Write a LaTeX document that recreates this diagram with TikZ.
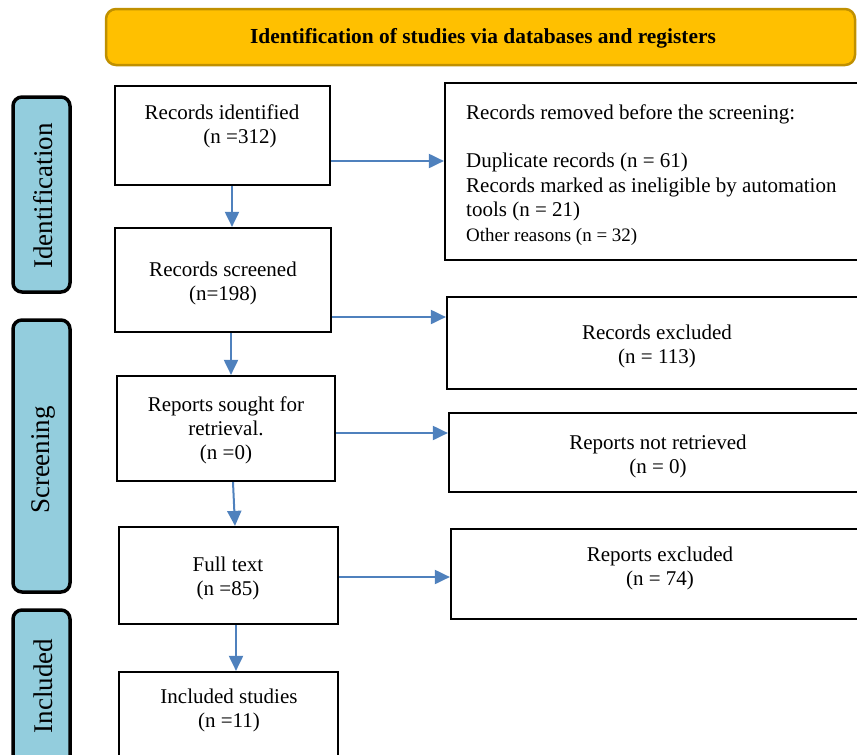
\documentclass[tikz,border=0pt]{standalone}
\usepackage{fontspec}
\setmainfont{Liberation Serif}
\usetikzlibrary{arrows.meta}
\definecolor{gold}{HTML}{FFC000}
\definecolor{goldline}{HTML}{C09000}
\definecolor{tabblue}{HTML}{93CDDD}
\definecolor{arrblue}{HTML}{4F81BD}
\begin{document}
\begin{tikzpicture}[x=1pt,y=-1pt,
  box/.style={draw=black, line width=2.2pt, inner sep=0pt},
  txt/.style={font=\fontsize{21}{24}\selectfont, align=center, inner sep=0pt},
  tab/.style={draw=black, line width=3.5pt, fill=tabblue, rounded corners=9pt, inner sep=0pt},
  tabtxt/.style={font=\fontsize{27}{30}\selectfont, rotate=90, inner sep=0pt},
  arr/.style={draw=arrblue, line width=2pt, -{Triangle[length=15pt,width=14pt]}}
]
\useasboundingbox (0,0) rectangle (857,755);
\clip (0,0) rectangle (857,755);

% banner
\node[draw=goldline, fill=gold, line width=2.5pt, rounded corners=10pt, inner sep=0pt,
      minimum width=749pt, minimum height=56pt] (banner) at (480.5,37) {};
\node[font=\bfseries\fontsize{21.4}{26}\selectfont, inner sep=0pt] (bannertxt) at (483,38)
  {Identification of studies via databases and registers};

% side tabs
\node[tab, minimum width=57pt, minimum height=195pt] (tabid) at (41.5,194.5) {};
\node[tabtxt] (tabidtxt) at (43,196) {Identification};
\node[tab, minimum width=57pt, minimum height=272pt] (tabsc) at (41.5,456) {};
\node[tabtxt] (tabsctxt) at (43,460) {Screening};
\node[tab, minimum width=57pt, minimum height=160pt] (tabin) at (41.5,690) {};
\node[tabtxt] (tabintxt) at (43,686) {Included};

% left column boxes
\node[box, minimum width=215pt, minimum height=99pt] (ri) at (222.5,135.5) {};
\node[txt] (ritxt) at (222,126) {Records identified\\\hspace{36pt}(n =312)};
\node[box, minimum width=216pt, minimum height=104pt] (rs) at (223,280) {};
\node[txt] (rstxt) at (223,283) {Records screened\\(n=198)};
\node[box, minimum width=218pt, minimum height=105pt] (so) at (226,428.5) {};
\node[txt] (sotxt) at (226,430) {Reports sought for\\retrieval.\\(n =0)};
\node[box, minimum width=219pt, minimum height=97pt] (ft) at (228.5,575.5) {};
\node[txt] (fttxt) at (228,578) {Full text\\(n =85)};
\node[box, minimum width=219pt, minimum height=88pt] (inc) at (228.5,716) {};
\node[txt] (inctxt) at (229,710) {Included studies\\(n =11)};

% right column boxes
\node[box, minimum width=425pt, minimum height=177pt] (rem) at (657.5,171.5) {};
\node[txt, align=left, anchor=north west] (remtxt) at (466,105)
  {Records removed before the screening:\\[24pt]
   Duplicate records (n = 61)\\[1pt]
   Records marked as ineligible by automation\\
   tools (n = 21)\\[1pt]
   {\fontsize{19}{22}\selectfont Other reasons (n = 32)}};
\node[box, minimum width=423pt, minimum height=92pt] (rex) at (658.5,343) {};
\node[txt] (rextxt) at (657,346) {Records excluded\\(n = 113)};
\node[box, minimum width=421pt, minimum height=79pt] (nr) at (659.5,452.5) {};
\node[txt] (nrtxt) at (658,456) {Reports not retrieved\\(n = 0)};
\node[box, minimum width=419pt, minimum height=90pt] (rpx) at (660.5,574) {};
\node[txt] (rpxtxt) at (660,568) {Reports excluded\\(n = 74)};

% connectors
\draw[arr] (ri.east |- 0,161) -- (rem.west |- 0,161);
\draw[arr] (rs.east |- 0,317) -- (rex.west |- 0,317);
\draw[arr] (so.east |- 0,433) -- (nr.west |- 0,433);
\draw[arr] (ft.east |- 0,577) -- (rpx.west |- 0,577);
\draw[arr] (ri.south -| 232,0) -- (rs.north -| 232,0);
\draw[arr] (rs.south -| 231,0) -- (so.north -| 231,0);
\draw[arr] (so.south -| 233,0) -- (ft.north -| 235,0);
\draw[arr] (ft.south -| 236,0) -- (inc.north -| 236,0);
\end{tikzpicture}
\end{document}
